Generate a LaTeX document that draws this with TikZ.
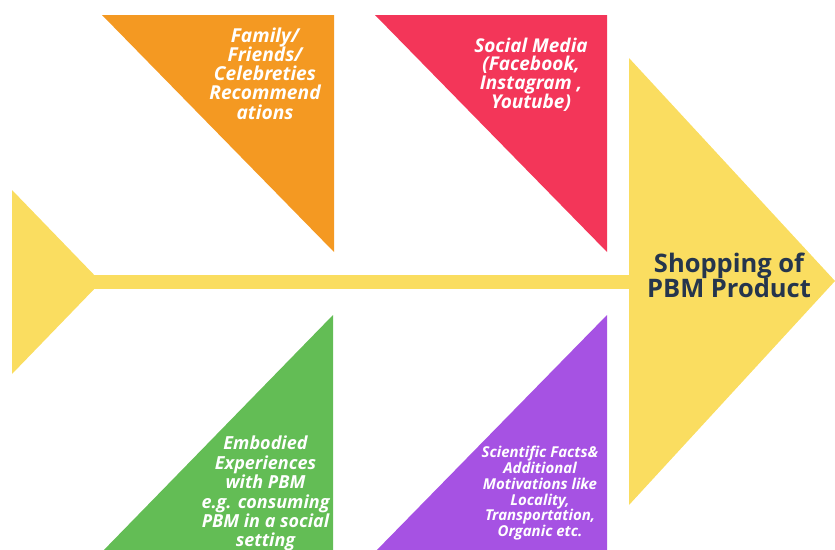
\documentclass[tikz,border=0pt]{standalone}
\usepackage{fontspec}
\setmainfont{Open Sans}
\definecolor{fishyellow}{RGB}{250,221,96}
\definecolor{boneorange}{RGB}{244,153,34}
\definecolor{bonered}{RGB}{243,54,89}
\definecolor{bonegreen}{RGB}{99,189,85}
\definecolor{bonepurple}{RGB}{166,82,227}
\definecolor{headtext}{RGB}{37,53,77}
\begin{document}
\setlength{\lineskiplimit}{-100pt}
\begin{tikzpicture}[x=1pt, y=-1pt,
  bonetext/.style={text=white, align=center, inner sep=0pt, anchor=north},
  headlabel/.style={text=headtext, align=center, inner sep=0pt, anchor=north,
    font=\bfseries\fontsize{25.5}{25}\selectfont}]
\useasboundingbox (0,0) rectangle (835,549);
\begin{scope}
\clip (0,0) rectangle (835,549);
% spine, tail and head of the fish
\fill[fishyellow] (93,275) rectangle (632,289);
\fill[fishyellow] (12,190) -- (101,282) -- (12,374) -- cycle;
\fill[fishyellow] (629,58) -- (835,281) -- (629,505) -- cycle;
% upper bones
\fill[boneorange] (102,15) -- (334,15) -- (334,252) -- cycle;
\fill[bonered] (375,15) -- (607,15) -- (607,252) -- cycle;
% lower bones
\fill[bonegreen] (333,315) -- (333,555) -- (99,555) -- cycle;
\fill[bonepurple] (607,315) -- (607,555) -- (372,555) -- cycle;
% labels
\node[bonetext, font=\bfseries\itshape\fontsize{19.2}{19.2}\selectfont] (family) at (265,27.5)
  {Family/\\Friends/\\Celebreties\\Recommend\\ations};
\node[bonetext, font=\bfseries\itshape\fontsize{19}{18.8}\selectfont] (social) at (531,37.5)
  {Social Media\\(Facebook,\\Instagram ,\\Youtube)};
\node[bonetext, font=\bfseries\itshape\fontsize{18}{19.4}\selectfont] (embodied) at (265.5,436)
  {Embodied\\Experiences\\with PBM\\e.g. consuming\\PBM in a social\\setting};
\node[bonetext, font=\bfseries\itshape\fontsize{15}{15.8}\selectfont] (science) at (540,446)
  {Scientific Facts\&\\Additional\\Motivations like\\Locality,\\Transportation,\\Organic etc.};
\node[headlabel] (head) at (729,252.5) {Shopping of\\PBM Product};
\end{scope}
\end{tikzpicture}
\end{document}
